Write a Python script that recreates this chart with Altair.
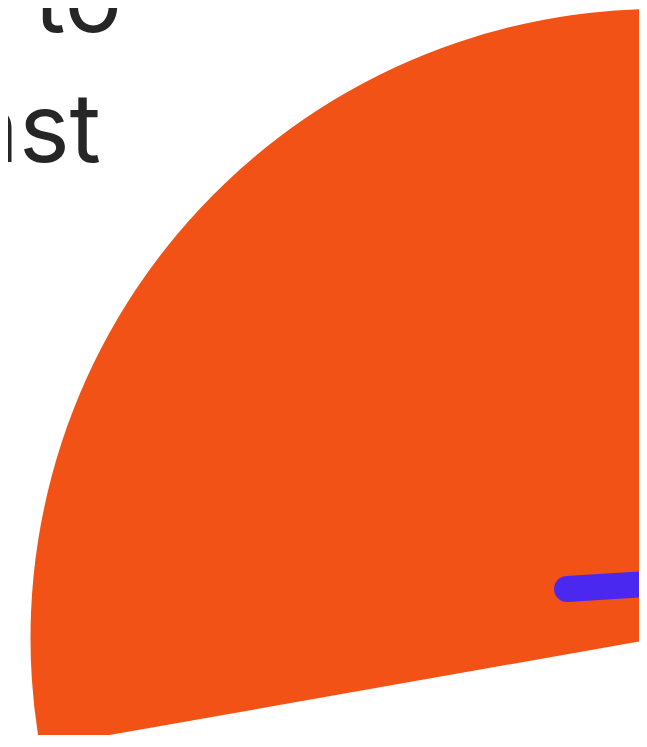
import altair as alt
import pandas as pd

# Gauge arc: angles in degrees, clockwise from 12 o'clock
arc_start_deg = [260]
arc_end_deg = [460]
arc_center_x = [0.0]
arc_center_y = [0.0]

# Needle (blue line) in gauge units (radius of gauge = 1)
needle_x = [-0.147, 0.033]
needle_y = [0.078, 0.089]

# Headline fragments
headline_lines = ["n to", "ast"]

W, H = 631, 727
R = 629  # gauge radius in px (layout)
PX = 1.0 / R
CX, CY = 651.5, 630  # gauge centre inside the view, px (layout)

xs = alt.Scale(domain=[-CX * PX, (W - CX) * PX], nice=False, zero=False)
ys = alt.Scale(domain=[(CY - H) * PX, CY * PX], nice=False, zero=False)

arc_df = pd.DataFrame({
    "cx": arc_center_x,
    "cy": arc_center_y,
    "start": arc_start_deg,
    "end": arc_end_deg,
})
needle_df = pd.DataFrame({"x": needle_x, "y": needle_y, "order": [0, 1]})
text_df = pd.DataFrame({"line": headline_lines, "row": [0, 1]})

arc = alt.Chart(arc_df).mark_arc(color="#F25216", radius=R).encode(
    x=alt.X("cx:Q", scale=xs, axis=None),
    y=alt.Y("cy:Q", scale=ys, axis=None),
    theta=alt.Theta("start:Q", scale=alt.Scale(domain=[0, 360], range=[0, 6.283185307])),
    theta2="end:Q",
)

needle = alt.Chart(needle_df).mark_line(
    color="#4A28F0", strokeWidth=26, strokeCap="round"
).encode(
    x=alt.X("x:Q", scale=xs, axis=None),
    y=alt.Y("y:Q", scale=ys, axis=None),
    order="order:O",
)

text1 = alt.Chart(text_df[text_df.row == 0]).mark_text(
    font="Inter", fontSize=96, color="#262626", align="right", baseline="alphabetic"
).encode(text="line:N", x=alt.value(114), y=alt.value(24))

text2 = alt.Chart(text_df[text_df.row == 1]).mark_text(
    font="Inter", fontSize=96, color="#262626", align="right", baseline="alphabetic"
).encode(text="line:N", x=alt.value(93), y=alt.value(154))

chart = alt.layer(arc, needle, text1, text2).properties(
    width=W, height=H, autosize=alt.AutoSizeParams(type="none"), padding=0,
    background="white",
).configure_view(stroke=None)

chart.save("out.html", embed_options={"renderer": "svg", "actions": False})
